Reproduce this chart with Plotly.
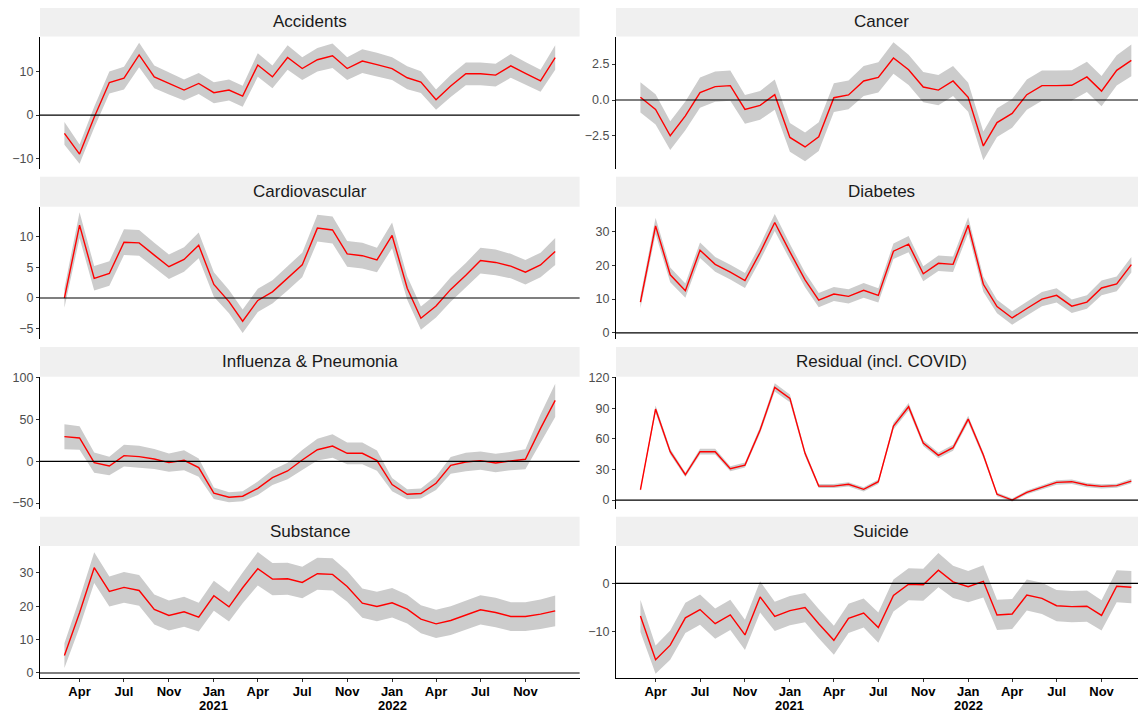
import pandas as pd
import plotly.graph_objects as go

# ---------------- data ----------------
months = pd.date_range("2020-03-01", periods=34, freq="MS")

panel_titles = ["Accidents", "Cancer", "Cardiovascular", "Diabetes",
                "Influenza & Pneumonia", "Residual (incl. COVID)", "Substance", "Suicide"]

accidents = [-4.2, -8.9, -0.5, 7.4, 8.4, 13.7, 8.7, 7.2, 5.7, 7.2, 5.1, 5.7, 4.3, 11.4, 8.7, 13.1, 10.6,
             12.6, 13.5, 10.6, 12.3, 11.5, 10.6, 8.5, 7.5, 3.5, 6.6, 9.4, 9.4, 9.1, 11.2, 9.5, 7.8, 13.1]
accidents_half = [2.6, 2.2, 2.4, 2.5, 2.6, 2.8, 2.6, 2.5, 2.4, 2.4, 2.4, 2.4, 2.4, 2.7, 2.6, 2.8, 2.6,
                  2.7, 2.8, 2.6, 2.7, 2.7, 2.6, 2.6, 2.5, 2.3, 2.5, 2.6, 2.6, 2.6, 2.7, 2.6, 2.5, 2.8]

cancer = [0.19, -0.65, -2.48, -1.1, 0.51, 0.93, 1.0, -0.65, -0.37, 0.37, -2.6, -3.26, -2.55, 0.16, 0.35,
          1.32, 1.57, 2.92, 2.1, 0.9, 0.69, 1.32, 0.19, -3.19, -1.57, -0.93, 0.37, 1.0, 1.0, 1.02, 1.6,
          0.62, 2.06, 2.75]
cancer_half = [1.05, 1.05, 1.0, 1.0, 1.05, 1.05, 1.05, 1.0, 1.0, 1.05, 1.0, 1.0, 1.0, 1.0, 1.0, 1.05, 1.05,
               1.1, 1.05, 1.05, 1.05, 1.05, 1.0, 1.0, 1.0, 1.0, 1.05, 1.05, 1.05, 1.05, 1.05, 1.05, 1.05, 1.1]

cardio = [0.0, 11.9, 3.2, 4.0, 9.1, 9.0, 7.0, 5.1, 6.3, 8.6, 2.2, -0.6, -3.8, -0.4, 1.0, 3.2, 5.4,
          11.4, 11.1, 7.2, 6.9, 6.2, 10.2, 1.6, -3.3, -1.3, 1.4, 3.7, 6.1, 5.8, 5.2, 4.2, 5.4, 7.6]
cardio_half = [1.6, 2.1, 2.0, 2.0, 2.1, 2.1, 2.0, 2.0, 2.0, 2.1, 2.0, 1.9, 1.9, 1.9, 1.9, 2.0, 2.0,
               2.2, 2.2, 2.1, 2.1, 2.0, 2.1, 1.9, 1.9, 1.9, 2.0, 2.0, 2.1, 2.1, 2.0, 2.0, 2.0, 2.2]

diabetes = [9.1, 31.7, 17.2, 12.5, 24.5, 20.3, 18.0, 15.5, 23.8, 32.7, 24.0, 15.7, 9.7, 11.5, 10.8,
            12.6, 11.1, 24.2, 26.3, 17.5, 20.6, 20.3, 31.9, 14.4, 7.8, 4.4, 7.2, 10.0, 11.1, 7.9, 9.1,
            13.3, 14.5, 20.2]
diabetes_half = [1.8, 2.4, 2.2, 2.1, 2.3, 2.2, 2.2, 2.2, 2.3, 2.5, 2.3, 2.2, 2.1, 2.1, 2.1,
                 2.2, 2.1, 2.3, 2.4, 2.2, 2.3, 2.3, 2.4, 2.2, 2.0, 2.0, 2.0, 2.1, 2.1, 2.0, 2.0,
                 2.2, 2.2, 2.3]

influenza = [29.5, 27.9, -1.6, -5.6, 6.8, 5.6, 2.8, -1.6, 1.2, -7.6, -38.2, -43.0, -41.8, -32.3, -19.5,
             -11.6, 1.6, 13.9, 18.3, 9.6, 9.6, 0.8, -27.9, -39.4, -38.6, -26.3, -4.8, -0.8, 0.8, -2.0,
             0.4, 2.4, 39.4, 72.9]
influenza_half = [15, 14, 12, 11, 13, 13, 12, 11, 12, 11, 7, 6, 6, 8, 9, 10, 12, 13, 14, 13, 13, 12, 8,
                  6, 6, 8, 10, 11, 11, 11, 11, 12, 17, 20]

residual = [10.1, 89.2, 47.4, 24.8, 47.4, 47.4, 30.7, 34.3, 68.6, 110.5, 99.7, 45.8, 13.7, 13.7, 15.4,
            10.5, 18.0, 72.5, 91.5, 55.9, 43.8, 51.3, 79.4, 44.1, 5.6, 0.0, 7.5, 12.1, 17.3, 18.0, 14.7,
            13.4, 14.1, 18.6]
residual_half = [1.5, 3.5, 2.8, 2.2, 2.8, 2.8, 2.4, 2.5, 3.2, 4.0, 3.8, 2.8, 2.0, 2.0, 2.0, 2.0, 2.2,
                 3.3, 3.6, 3.0, 2.8, 3.0, 3.4, 2.8, 1.8, 1.5, 1.8, 2.0, 2.2, 2.2, 2.1, 2.0, 2.0, 2.2]

substance = [5.2, 18.0, 31.5, 24.4, 25.6, 24.7, 19.0, 17.2, 18.3, 16.7, 23.1, 19.8, 25.5, 31.2, 28.1,
             28.2, 27.1, 29.7, 29.5, 25.9, 20.9, 19.9, 21.0, 19.1, 16.1, 14.7, 15.7, 17.3, 18.9, 18.1,
             16.9, 16.9, 17.6, 18.6]
substance_half = [3.7, 4.3, 4.6, 4.5, 4.6, 4.6, 4.5, 4.5, 4.5, 4.3, 4.5, 4.4, 4.6, 5.0, 4.8, 4.8, 4.7,
                  4.8, 4.8, 4.6, 4.4, 4.4, 4.4, 4.3, 4.2, 4.2, 4.3, 4.3, 4.4, 4.4, 4.3, 4.3, 4.4, 4.6]

suicide = [-6.7, -15.7, -12.7, -7.1, -5.4, -8.3, -6.5, -10.6, -2.8, -6.8, -5.6, -5.0, -8.3, -11.7, -7.2,
           -6.1, -9.1, -2.5, -0.2, -0.3, 2.7, 0.3, -0.7, 0.4, -6.5, -6.3, -2.4, -3.1, -4.6, -4.8, -4.7,
           -6.6, -0.6, -0.8]
suicide_half = [3.3, 2.9, 3.0, 3.1, 3.1, 3.1, 3.1, 3.1, 3.2, 3.0, 3.0, 3.0, 3.0, 3.0, 3.0, 3.0, 3.1,
                3.3, 3.3, 3.3, 3.5, 3.3, 3.2, 3.3, 3.1, 3.1, 3.2, 3.2, 3.2, 3.2, 3.2, 3.1, 3.3, 3.3]

series = [accidents, cancer, cardio, diabetes, influenza, residual, substance, suicide]
halves = [accidents_half, cancer_half, cardio_half, diabetes_half, influenza_half, residual_half,
          substance_half, suicide_half]

y_ticks = [[-10, 0, 10], [-2.5, 0.0, 2.5], [-5, 0, 5, 10, 15], [0, 10, 20, 30],
           [-50, 0, 50, 100], [0, 30, 60, 90, 120], [0, 10, 20, 30], [-10, 0]]
y_ranges = [[-12.3, 17.9], [-4.79, 4.41], [-6.7, 14.9], [-1.85, 37.4],
            [-57.1, 101.3], [-8.8, 121], [-1.5, 38.0], [-19.45, 7.66]]

x_tick_dates = ["2020-04-01", "2020-07-01", "2020-10-01", "2021-01-01", "2021-04-01", "2021-07-01",
                "2021-10-01", "2022-01-01", "2022-04-01", "2022-07-01", "2022-10-01"]
x_tick_text = ["Apr", "Jul", "Nov", "Jan", "Apr", "Jul", "Nov", "Jan", "Apr", "Jul", "Nov"]
year_dates = ["2021-01-01", "2022-01-01"]
year_text = ["2021", "2022"]

# ---------------- layout geometry ----------------
col_domains = [[0.0, 0.4879], [0.5208, 1.0]]
row_domains = [[0.7666, 0.9661], [0.5105, 0.7098], [0.2545, 0.4538], [0.0, 0.1988]]
strip_domains = [[0.9661, 1.0105], [0.7098, 0.7550], [0.4538, 0.4985], [0.1988, 0.2429]]
x_ranges = [["2020-01-11", "2023-01-20"], ["2020-01-11", "2022-12-31"]]
year_label_y = -0.0415

FONT = "Liberation Sans, Arial, sans-serif"

fig = go.Figure()
layout = dict(
    width=1138, height=707,
    margin=dict(l=32, r=0, t=6, b=37, autoexpand=False),
    paper_bgcolor="white", plot_bgcolor="white",
    showlegend=False,
    font=dict(family=FONT),
)
shapes = []
annotations = []

xd = list(months)
for k in range(8):
    r, c = divmod(k, 2)
    ax = "" if k == 0 else str(k + 1)
    xname, yname = "x" + ax, "y" + ax
    vals = series[k]
    half = halves[k]
    lower = [v - h for v, h in zip(vals, half)]
    upper = [v + h for v, h in zip(vals, half)]

    fig.add_trace(go.Scatter(
        x=xd + xd[::-1], y=upper + lower[::-1], fill="toself",
        fillcolor="#CCCCCC", line=dict(width=0), mode="lines",
        hoverinfo="skip", xaxis=xname, yaxis=yname))
    fig.add_trace(go.Scatter(
        x=xd, y=vals, mode="lines", line=dict(color="#FF0000", width=1.4),
        xaxis=xname, yaxis=yname))

    bottom = (r == 3)
    layout["xaxis" + ax] = dict(
        domain=col_domains[c], anchor=yname, type="date", range=x_ranges[c],
        showgrid=False, zeroline=False, automargin=False,
        showline=bottom, linecolor="black", linewidth=1.2,
        ticks="outside" if bottom else "", ticklen=3, tickcolor="#333333",
        tickvals=x_tick_dates, ticktext=x_tick_text,
        showticklabels=bottom, ticklabelstandoff=-2,
        tickfont=dict(family=FONT, size=13, color="black", weight="bold"),
    )
    ydict = dict(
        domain=row_domains[r], anchor=xname, range=y_ranges[k],
        showgrid=False, zeroline=False, automargin=False,
        showline=True, linecolor="black", linewidth=1.2,
        ticks="outside", ticklen=3, tickcolor="#333333",
        tickvals=y_ticks[k],
        tickfont=dict(family=FONT, size=12.5, color="#4D4D4D"),
    )
    if k == 1:
        ydict["tickformat"] = ".1f"
    layout["yaxis" + ax] = ydict

    # horizontal zero line
    shapes.append(dict(type="line", xref=xname + " domain", x0=0, x1=1,
                       yref=yname, y0=0, y1=0,
                       line=dict(color="black", width=1.2), layer="above"))
    # strip
    shapes.append(dict(type="rect", xref="paper", yref="paper",
                       x0=col_domains[c][0], x1=col_domains[c][1],
                       y0=strip_domains[r][0], y1=strip_domains[r][1],
                       fillcolor="#F0F0F0", line=dict(width=0), layer="below"))
    annotations.append(dict(
        xref="paper", yref="paper",
        x=(col_domains[c][0] + col_domains[c][1]) / 2,
        y=(strip_domains[r][0] + strip_domains[r][1]) / 2,
        text=panel_titles[k], showarrow=False,
        xanchor="center", yanchor="middle",
        font=dict(family=FONT, size=17, color="#1A1A1A")))

    # year line under the January ticks (bottom row only)
    if bottom:
        for yd, yt in zip(year_dates, year_text):
            annotations.append(dict(
                xref=xname, yref="paper", x=yd, y=year_label_y,
                text=yt, showarrow=False, xanchor="center", yanchor="middle",
                font=dict(family=FONT, size=13, color="black", weight="bold")))

layout["shapes"] = shapes
layout["annotations"] = annotations
fig.update_layout(**layout)

fig.write_html("out.html")
